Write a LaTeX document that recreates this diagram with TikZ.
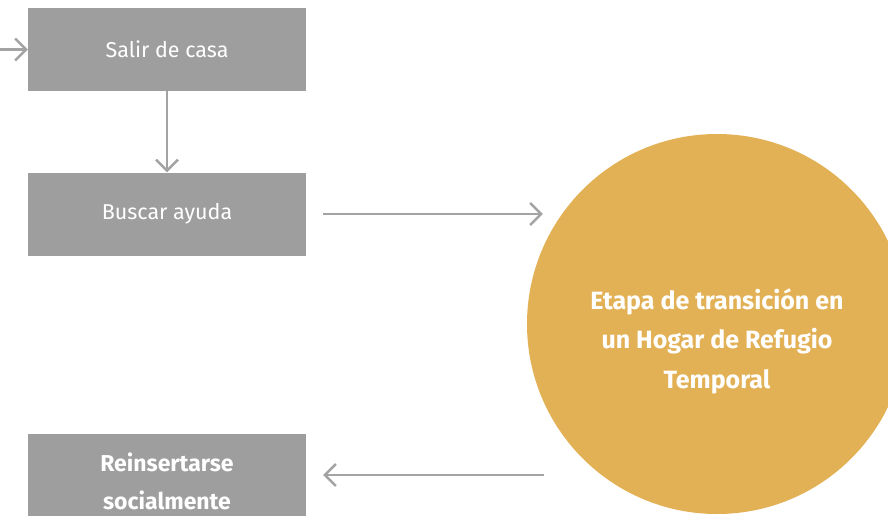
\documentclass[tikz,border=0pt]{standalone}
\usepackage{fontspec}
\setmainfont{Fira Sans}
\usetikzlibrary{arrows.meta,calc}
\definecolor{boxgray}{HTML}{9D9E9D}
\definecolor{arrowgray}{HTML}{A3A3A3}
\definecolor{refugiogold}{HTML}{E3B155}
\tikzset{
	paso/.style={fill=boxgray, minimum width=278pt, minimum height=83pt, inner sep=0pt, text=white, font=\fontsize{21.5}{38}\selectfont, align=center},
	flow/.style={draw=arrowgray, line width=2.6pt, -{Straight Barb[length=11pt, width=22pt, line width=2.4pt]}},
}

\begin{document}
\begin{tikzpicture}[x=1pt, y=-1pt]
			%%%%% START %%%%%
			
			\useasboundingbox (0, 0) rectangle (888, 515);
			\clip (0, 0) rectangle (888, 515);
			
			\node[paso] (salir) at (167, 49.5) {Salir de casa};
			\node[paso] (buscar) at (167, 214) {Buscar ayuda};
			\node[paso, minimum height=94pt, font=\fontsize{23}{38}\selectfont\bfseries] (reinsertar) at (167, 481) {Reinsertarse\\socialmente};
			
			\node[circle, fill=refugiogold, minimum size=380pt, inner sep=0pt] (refugio) at (717, 324) {};
			\node[text=white, align=center, font=\fontsize{25}{39.5}\selectfont\bfseries] (refugiotxt) at ([yshift=-17pt]refugio.center) {Etapa de transición en\\un Hogar de Refugio\\Temporal};
			
			\coordinate (inicio) at (0, 49.5);
			\draw[flow] (inicio) -- (salir.west);
			\draw[flow] (salir.south) -- (buscar.north);
			\draw[flow, shorten <=17pt, shorten >=-16pt] (buscar.east) -- (buscar.east -| refugio.west);
			\draw[flow, shorten <=-17pt, shorten >=17pt] ([yshift=6pt]reinsertar.east -| refugio.west) -- ([yshift=6pt]reinsertar.east);
			
			%%%%% END %%%%%
		\end{tikzpicture}
\end{document}
